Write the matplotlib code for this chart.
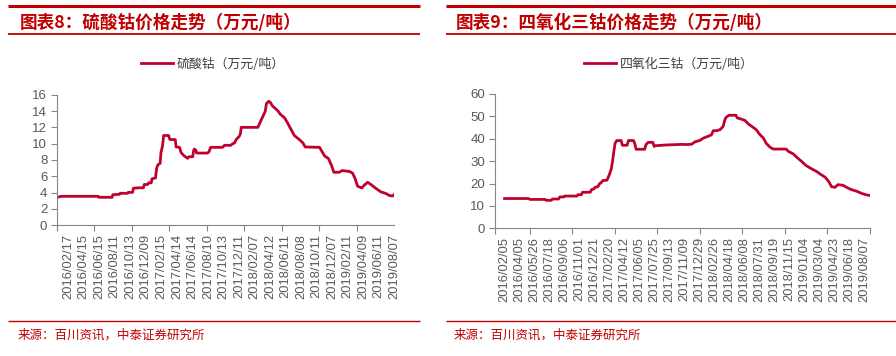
import numpy as np
import matplotlib
matplotlib.use("Agg")
import matplotlib.pyplot as plt
from matplotlib.lines import Line2D

# ---------------- data ----------------
left_title = "图表8：硫酸钴价格走势（万元/吨）"
right_title = "图表9：四氧化三钴价格走势（万元/吨）"
left_series = "硫酸钴（万元/吨）"
right_series = "四氧化三钴（万元/吨）"
source_text = "来源：百川资讯，中泰证券研究所"

left_labels = ["2016/02/17", "2016/04/15", "2016/06/15", "2016/08/11", "2016/10/13",
               "2016/12/09", "2017/02/15", "2017/04/14", "2017/06/14", "2017/08/10",
               "2017/10/13", "2017/12/11", "2018/02/07", "2018/04/12", "2018/06/11",
               "2018/08/08", "2018/10/11", "2018/12/07", "2019/02/11", "2019/04/09",
               "2019/06/11", "2019/08/07"]
right_labels = ["2016/02/05", "2016/04/05", "2016/05/26", "2016/07/18", "2016/09/06",
                "2016/11/01", "2016/12/21", "2017/02/20", "2017/04/12", "2017/06/05",
                "2017/07/25", "2017/09/13", "2017/11/09", "2017/12/29", "2018/02/26",
                "2018/04/18", "2018/06/08", "2018/07/31", "2018/09/19", "2018/11/15",
                "2019/01/04", "2019/03/04", "2019/04/23", "2019/06/18", "2019/08/07"]

# trading-day index of each reading, and price (10k CNY / t)
left_idx = [0, 12, 106, 108, 142, 144, 161, 163, 182, 184, 195, 197, 214, 223, 225, 234,
            236, 243, 245, 254, 257, 260, 266, 268, 272, 275, 288, 290, 292, 305, 307, 316,
            320, 328, 337, 340, 350, 352, 354, 358, 360, 388, 392, 396, 427, 432, 448, 452,
            458, 462, 470, 473, 475, 518, 525, 531, 537, 540, 546, 551, 556, 561, 570, 576,
            587, 595, 604, 612, 625, 634, 640, 677, 683, 690, 700, 707, 714, 728, 735, 754,
            762, 768, 775, 786, 792, 801, 810, 823, 835, 848, 858, 866, 869]
left_val = [3.43, 3.55, 3.55, 3.43, 3.43, 3.75, 3.8, 3.92, 3.92, 4.04, 4.04, 4.55, 4.6, 4.6,
            5.0, 5.0, 5.2, 5.2, 5.7, 5.8, 7.0, 7.4, 7.6, 8.9, 9.7, 11.0, 11.0, 10.6, 10.5,
            10.5, 9.6, 9.55, 8.9, 8.5, 8.2, 8.4, 8.4, 9.1, 9.35, 9.2, 8.85, 8.85, 9.0, 9.55,
            9.55, 9.8, 9.8, 9.96, 10.1, 10.5, 10.9, 11.2, 12.0, 12.0, 12.74, 13.35, 13.97,
            14.9, 15.2, 15.0, 14.6, 14.4, 14.0, 13.6, 13.15, 12.5, 11.7, 11.0, 10.5, 10.1,
            9.6, 9.55, 9.06, 8.5, 8.17, 7.43, 6.5, 6.5, 6.7, 6.6, 6.4, 5.8, 4.8, 4.57, 4.9,
            5.27, 4.98, 4.5, 4.1, 3.9, 3.63, 3.6, 3.75]

right_idx = [23, 79, 82, 118, 120, 132, 135, 149, 152, 161, 163, 192, 194, 202, 205, 223,
             226, 231, 234, 241, 244, 249, 252, 262, 267, 272, 275, 278, 281, 285, 295, 298,
             309, 312, 324, 327, 330, 350, 353, 358, 369, 372, 375, 398, 437, 448, 460, 467,
             479, 487, 498, 506, 510, 518, 526, 533, 537, 540, 547, 563, 566, 572, 584, 592,
             603, 610, 619, 627, 633, 642, 650, 680, 685, 697, 705, 716, 726, 740, 751, 759,
             771, 779, 786, 794, 801, 813, 821, 832, 844, 856, 868, 875]
right_val = [13.3, 13.3, 12.9, 12.9, 12.5, 12.5, 13.1, 13.1, 14.0, 14.0, 14.4, 14.4, 15.0,
             15.0, 16.1, 16.1, 17.3, 17.5, 18.3, 18.6, 19.8, 20.5, 21.3, 21.5, 23.7, 26.5,
             29.9, 34.4, 38.1, 39.2, 39.2, 37.1, 37.1, 39.2, 39.2, 37.7, 35.3, 35.3, 37.4,
             38.4, 38.4, 36.6, 36.9, 37.2, 37.5, 37.4, 37.6, 38.6, 39.3, 40.3, 41.1, 41.8,
             43.6, 43.6, 44.1, 45.5, 48.5, 49.6, 50.5, 50.5, 49.3, 49.0, 48.2, 46.6, 45.1,
             44.1, 41.8, 40.3, 38.1, 36.3, 35.4, 35.4, 34.4, 33.2, 31.7, 29.9, 28.1, 26.5,
             25.4, 24.3, 22.8, 21.0, 18.6, 18.3, 19.5, 19.2, 18.3, 17.3, 16.6, 15.6, 14.9,
             14.7]

left_ylim, left_ystep = 16, 2
right_ylim, right_ystep = 60, 10

# ---------------- style ----------------
W, H = 896, 356
CJK = ["Noto Sans CJK SC", "DejaVu Sans"]
RED = "#C00000"
LINE = "#C0002F"
GRAY = "#595959"
AXC = "#868686"

fig = plt.figure(figsize=(W / 100, H / 100), dpi=100)


def fx(px):
    return px / W


def fy(py):
    return 1 - py / H


def hline(x0, x1, y, lw):
    fig.add_artist(Line2D([fx(x0), fx(x1)], [fy(y), fy(y)], transform=fig.transFigure,
                          color=RED, lw=lw, solid_capstyle="butt"))


def panel(rect, idx, val, labels, n_last, label_step, label_end, tick_pos,
          ymax, ystep, series, title, px0, px1, tx, legend_xy):
    ax = fig.add_axes(rect)
    ax.plot(idx, val, color=LINE, lw=2.0, solid_joinstyle="round", label=series)
    ax.set_xlim(0, n_last)
    ax.set_ylim(0, ymax)
    ax.set_yticks(np.arange(0, ymax + 0.1, ystep))
    lpos = label_end - label_step * np.arange(len(labels) - 1, -1, -1)
    ax.set_xticks(lpos)
    ax.set_xticklabels(labels, rotation=90, fontfamily="Liberation Sans", fontsize=9.3,
                       color=GRAY)
    ax.set_xticks(tick_pos, minor=True)
    ax.tick_params(axis="x", which="major", length=0, pad=6)
    ax.tick_params(axis="x", which="minor", length=4, color=AXC, width=0.8)
    ax.tick_params(axis="y", length=4, color=AXC, width=0.8, pad=3, labelcolor=GRAY)
    for t in ax.get_yticklabels():
        t.set_fontfamily("Liberation Sans")
        t.set_fontsize(9.5)
    for s in ("top", "right"):
        ax.spines[s].set_visible(False)
    for s in ("left", "bottom"):
        ax.spines[s].set_color(AXC)
        ax.spines[s].set_linewidth(0.8)
    leg = ax.legend(loc="center", bbox_to_anchor=legend_xy, bbox_transform=fig.transFigure,
                    frameon=False, handlelength=2.5, handletextpad=0.3,
                    prop={"family": CJK, "size": 9.3})
    for t in leg.get_texts():
        t.set_color("#404040")
    hline(px0, px1, 6, 2.2)
    hline(px0, px1, 34, 1.3)
    hline(px0, px1, 320.7, 1.0)
    fig.text(fx(tx), fy(23), title, family=CJK, fontsize=12.7, fontweight="bold",
             color=RED, va="center", ha="left", style="italic")
    fig.text(fx(tx - 2), fy(335), source_text, family=CJK, fontsize=9, color=RED,
             va="center", ha="left")
    return ax


# left
nL = 869
panel([fx(57), fy(225.3), fx(394) - fx(57), fy(94.7) - fy(225.3)],
      left_idx, left_val, left_labels, nL, 40, nL, np.linspace(0, nL, 10),
      left_ylim, left_ystep, left_series, left_title, 8, 420, 20,
      (fx(213), fy(64)))

# right
nR = 875
rticks = np.concatenate([[0], nR - 99.1 * np.arange(8, -1, -1)])
panel([fx(494.7), fy(228.3), fx(869.7) - fx(494.7), fy(94) - fy(228.3)],
      right_idx, right_val, right_labels, nR, 35, nR - 12, rticks,
      right_ylim, right_ystep, right_series, right_title, 446, 896, 456,
      (fx(669), fy(64)))

fig.savefig("out.png", dpi=100)
